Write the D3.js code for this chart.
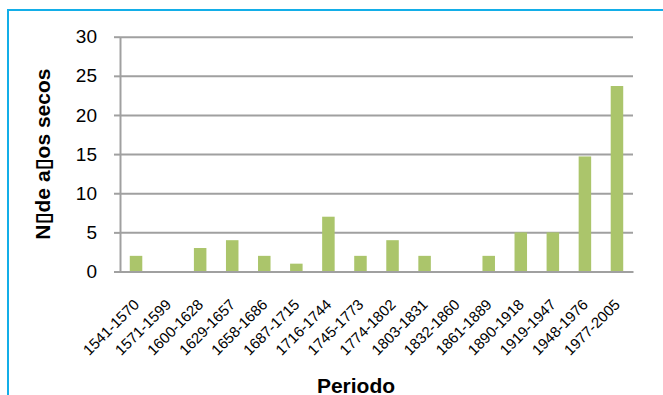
<!DOCTYPE html>
<html>
<head>
<meta charset="utf-8">
<script src="https://cdn.jsdelivr.net/npm/d3@7"></script>
<style>
  body { margin: 0; background: #fff; }
  svg { display: block; font-family: "Liberation Sans", Arial, sans-serif; }
</style>
</head>
<body>
<div id="chart"></div>
<script>
const periods = ["1541-1570", "1571-1599", "1600-1628", "1629-1657", "1658-1686", "1687-1715",
  "1716-1744", "1745-1773", "1774-1802", "1803-1831", "1832-1860", "1861-1889",
  "1890-1918", "1919-1947", "1948-1976", "1977-2005"];
const dryYears = [2, 0, 3, 4, 2, 1, 7, 2, 4, 2, 0, 2, 5, 5, 14.7, 23.7];
const yTicks = [0, 5, 10, 15, 20, 25, 30];

const width = 663, height = 395;
const margin = { top: 36.7, right: 30, bottom: 123.5, left: 120 };

const svg = d3.select("#chart").append("svg").attr("width", width).attr("height", height);

// outer chart border (light blue)
svg.append("rect")
  .attr("x", 8).attr("y", 10)
  .attr("width", 700).attr("height", 420)
  .style("fill", "none").style("stroke", "#13aee8").style("stroke-width", 2);

const x = d3.scaleBand()
  .domain(periods)
  .range([margin.left, width - margin.right])
  .paddingInner(0.61).paddingOuter(0.305);

const y = d3.scaleLinear()
  .domain([0, 30])
  .range([height - margin.bottom, margin.top]);

// gridlines + y ticks
const yAxis = svg.append("g")
  .attr("transform", `translate(${margin.left},0)`)
  .call(d3.axisLeft(y).tickValues(yTicks).tickSize(6).tickSizeOuter(0).tickPadding(17));
yAxis.select(".domain").style("stroke", "#a0a0a0").style("stroke-width", 2);
yAxis.selectAll(".tick line").style("stroke", "#a0a0a0").style("stroke-width", 2);
yAxis.selectAll(".tick text").style("font-size", "19px").style("fill", "#000");
yAxis.selectAll(".tick").append("line")
  .attr("x1", 0).attr("x2", width - margin.right - margin.left)
  .style("stroke", "#a0a0a0").style("stroke-width", 2);

// bars
svg.append("g").selectAll("rect")
  .data(dryYears)
  .join("rect")
  .attr("x", (d, i) => x(periods[i]))
  .attr("y", d => y(d))
  .attr("width", x.bandwidth())
  .attr("height", d => y(0) - y(d))
  .style("fill", "#abc56b");

// x axis, labels slanted at 45 degrees
const xAxis = svg.append("g")
  .attr("transform", `translate(0,${y(0)})`)
  .call(d3.axisBottom(x).tickSize(0).tickSizeOuter(0));
xAxis.select(".domain").style("stroke", "#a0a0a0").style("stroke-width", 2);
xAxis.selectAll(".tick text")
  .style("font-size", "15px").style("fill", "#000")
  .attr("text-anchor", "end")
  .attr("x", 0).attr("y", 0).attr("dy", 0)
  .attr("transform", "translate(4,34) rotate(-45)");

// axis titles
svg.append("text")
  .attr("transform", `translate(50,${(y(0) + y(30)) / 2}) rotate(-90)`)
  .attr("text-anchor", "middle")
  .style("font-size", "21px").style("font-weight", "bold")
  .text("N\u25AFde a\u25AFos secos");

svg.append("text")
  .attr("x", 356).attr("y", 393)
  .attr("text-anchor", "middle")
  .style("font-size", "21px").style("font-weight", "bold")
  .text("Periodo");
</script>
</body>
</html>
